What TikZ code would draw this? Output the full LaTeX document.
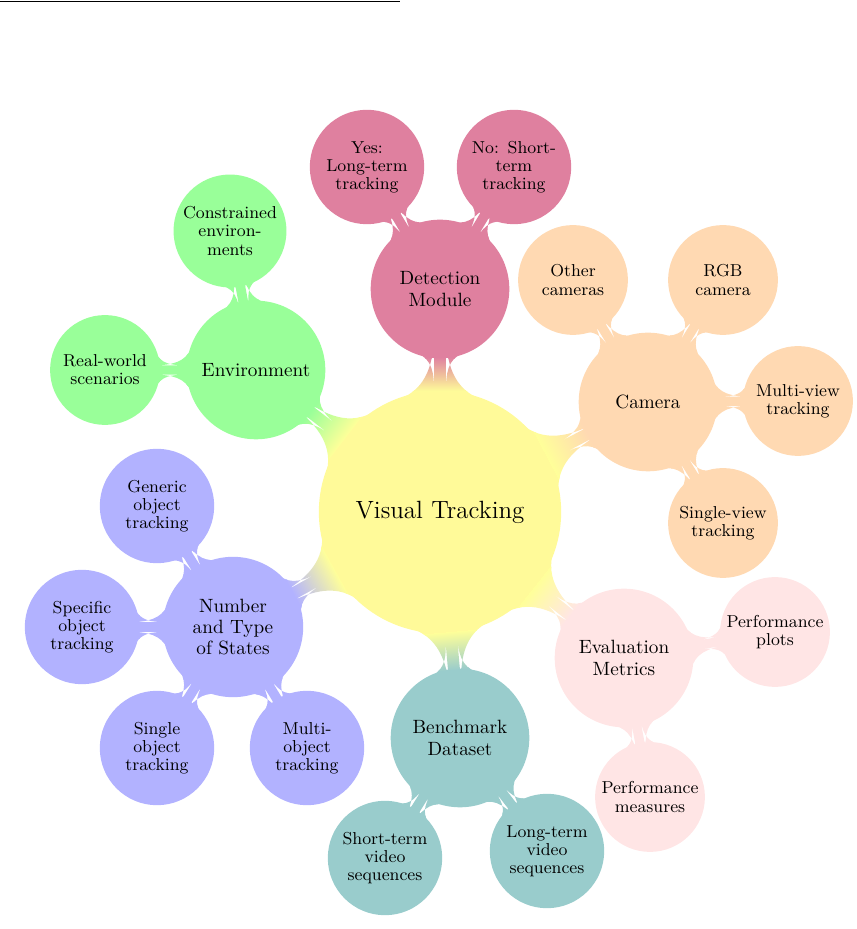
\documentclass[tikz,border=0pt]{standalone}
\usetikzlibrary{mindmap}
\colorlet{cRoot}{yellow!40}
\colorlet{cDet}{purple!50}
\colorlet{cCam}{orange!30}
\colorlet{cEval}{pink!40}
\colorlet{cBench}{teal!40}
\colorlet{cNum}{blue!30}
\colorlet{cEnv}{green!40}
\tikzset{
  rootc/.style={concept, concept color=cRoot, minimum size=125pt, text width=120pt, inner sep=0pt, align=center, font=\fontsize{13}{15}\selectfont},
  lone/.style={concept, minimum size=71pt, text width=66pt, inner sep=0pt, align=center, font=\fontsize{10}{11}\selectfont},
  ltwo/.style={concept, minimum size=56pt, text width=52pt, inner sep=0pt, align=center, font=\fontsize{9}{9.4}\selectfont},
  barone/.style 2 args={circle connection bar switch color=from (#1) to (#2)},
  bartwo/.style={circle connection bar switch color=from (#1) to (#1)},
}
\begin{document}
\begin{tikzpicture}[mindmap, x=0.52083pt, y=0.52083pt]
\useasboundingbox (0,0) rectangle (857,929);
\draw[line width=0.8pt] (0,927.5) -- (400,927.5);
% root
\node[rootc] (root) at (440,417) {Visual Tracking};
% level 1
\node[lone, concept color=cDet] (det) at (440,640) {Detection\\Module};
\node[lone, concept color=cCam] (cam) at (648,527) {Camera};
\node[lone, concept color=cEval] (eval) at (624,271) {Evaluation\\Metrics};
\node[lone, concept color=cBench] (bench) at (460,191) {Benchmark\\Dataset};
\node[lone, concept color=cNum] (num) at (233,302) {Number\\and Type\\of States};
\node[lone, concept color=cEnv] (env) at (256,559) {Environment};
% level 2
\node[ltwo, concept color=cDet] (yes) at (367,762) {Yes:\\Long-term\\tracking};
\node[ltwo, concept color=cDet] (no) at (514,762) {No: Short-\\term\\tracking};
\node[ltwo, concept color=cCam] (other) at (573,649) {Other\\cameras};
\node[ltwo, concept color=cCam] (rgb) at (723,649) {RGB\\camera};
\node[ltwo, concept color=cCam] (mview) at (798,528) {Multi-view\\tracking};
\node[ltwo, concept color=cCam] (sview) at (723,406) {Single-view\\tracking};
\node[ltwo, concept color=cEval] (plots) at (775,297) {Performance\\plots};
\node[ltwo, concept color=cEval] (meas) at (650,132) {Performance\\measures};
\node[ltwo, concept color=cBench] (short) at (385,71) {Short-term\\video\\sequences};
\node[ltwo, concept color=cBench] (long) at (547,78) {Long-term\\video\\sequences};
\node[ltwo, concept color=cNum] (gen) at (157,423) {Generic\\object\\tracking};
\node[ltwo, concept color=cNum] (spec) at (82,302) {Specific\\object\\tracking};
\node[ltwo, concept color=cNum] (sobj) at (157,181) {Single\\object\\tracking};
\node[ltwo, concept color=cNum] (mobj) at (307,181) {Multi-\\object\\tracking};
\node[ltwo, concept color=cEnv] (cons) at (230,698) {Constrained\\environ-\\ments};
\node[ltwo, concept color=cEnv] (real) at (105,559) {Real-world\\scenarios};
% connections level 1
\path (root) to[barone={cRoot}{cDet}] (det);
\path (root) to[barone={cRoot}{cCam}] (cam);
\path (root) to[barone={cRoot}{cEval}] (eval);
\path (root) to[barone={cRoot}{cBench}] (bench);
\path (root) to[barone={cRoot}{cNum}] (num);
\path (root) to[barone={cRoot}{cEnv}] (env);
% connections level 2
\path (det) to[bartwo=cDet] (yes);
\path (det) to[bartwo=cDet] (no);
\path (cam) to[bartwo=cCam] (other);
\path (cam) to[bartwo=cCam] (rgb);
\path (cam) to[bartwo=cCam] (mview);
\path (cam) to[bartwo=cCam] (sview);
\path (eval) to[bartwo=cEval] (plots);
\path (eval) to[bartwo=cEval] (meas);
\path (bench) to[bartwo=cBench] (short);
\path (bench) to[bartwo=cBench] (long);
\path (num) to[bartwo=cNum] (gen);
\path (num) to[bartwo=cNum] (spec);
\path (num) to[bartwo=cNum] (sobj);
\path (num) to[bartwo=cNum] (mobj);
\path (env) to[bartwo=cEnv] (cons);
\path (env) to[bartwo=cEnv] (real);
\end{tikzpicture}
\end{document}
